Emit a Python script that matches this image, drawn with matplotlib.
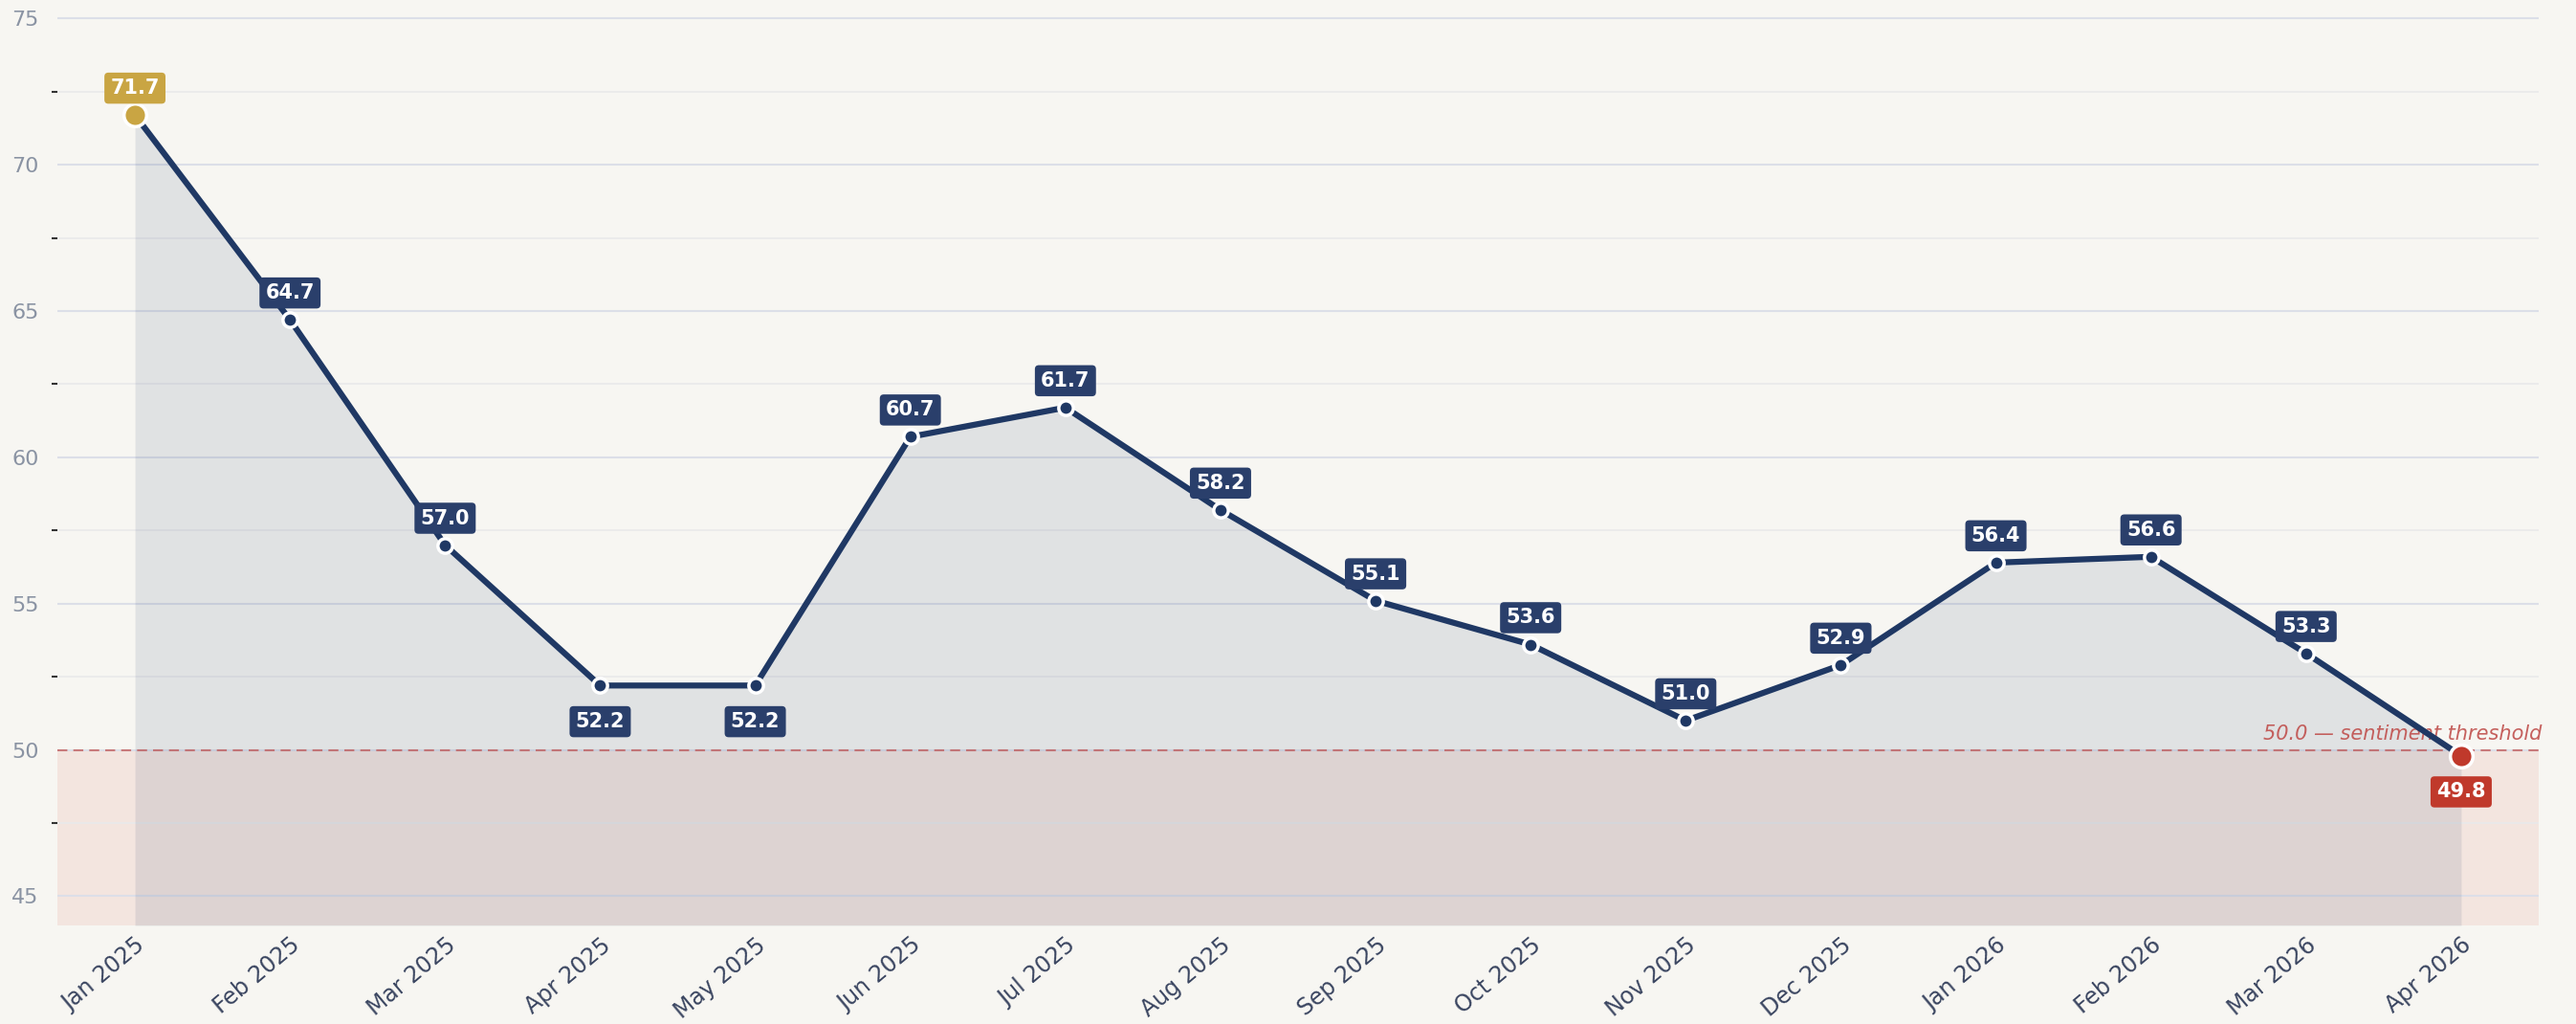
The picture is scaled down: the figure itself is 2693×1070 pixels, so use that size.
import matplotlib
matplotlib.use("Agg")
import matplotlib.pyplot as plt
from matplotlib.ticker import MultipleLocator

months = ["Jan 2025", "Feb 2025", "Mar 2025", "Apr 2025", "May 2025", "Jun 2025",
          "Jul 2025", "Aug 2025", "Sep 2025", "Oct 2025", "Nov 2025", "Dec 2025",
          "Jan 2026", "Feb 2026", "Mar 2026", "Apr 2026"]
values = [71.7, 64.7, 57.0, 52.2, 52.2, 60.7, 61.7, 58.2, 55.1, 53.6, 51.0, 52.9,
          56.4, 56.6, 53.3, 49.8]
below_labels = [3, 4, 15]
threshold = 50.0

NAVY = "#1f3864"
BOX = "#2a3f6b"
GOLD = "#c9a543"
RED = "#c0392b"
BG = "#f7f6f2"

fig = plt.figure(figsize=(26.93, 10.70), dpi=100, facecolor=BG)
ax = fig.add_axes([60/2693, 1 - 967/1070, (2654-60)/2693, (967-4)/1070])
ax.set_facecolor(BG)

x = list(range(len(values)))
ymin, ymax = 44.0, 75.5

ax.axhspan(ymin, threshold, color="#e8b4aa", alpha=0.25, lw=0, zorder=0)
ax.fill_between(x, values, ymin, color=NAVY, alpha=0.1, lw=0, zorder=1)
ax.axhline(threshold, color="#c0504d", lw=1.5, ls=(0, (5, 3)), alpha=0.7, zorder=2)
ax.text(15.52, threshold + 0.22, "50.0 — sentiment threshold", color="#c0504d",
        alpha=0.9, fontsize=15, style="italic", ha="right", va="bottom", zorder=3)

ax.plot(x, values, color=NAVY, lw=4.5, zorder=4, solid_capstyle="round")

for i, v in enumerate(values):
    if i == 0:
        c, bc, ms = GOLD, GOLD, 17
    elif i == len(values) - 1:
        c, bc, ms = RED, RED, 17
    else:
        c, bc, ms = NAVY, BOX, 11
    ax.plot(i, v, "o", color=c, ms=ms, mec="white", mew=2.5, zorder=5)
    if i in below_labels:
        dy, va = -20, "top"
    else:
        dy, va = 13, "bottom"
    ax.annotate(f"{v:.1f}", (i, v), xytext=(0, dy), textcoords="offset points",
                ha="center", va=va, color="white", fontsize=15, fontweight="bold",
                bbox=dict(boxstyle="round,pad=0.3,rounding_size=0.2", fc=bc, ec="none"),
                zorder=6)

ax.set_xlim(-0.5, 15.5)
ax.set_ylim(ymin, ymax)
ax.set_xticks(x)
ax.set_xticklabels(months, rotation=40, ha="right", rotation_mode="anchor",
                   color="#3a4560", fontsize=17)
ax.yaxis.set_major_locator(MultipleLocator(5))
ax.yaxis.set_minor_locator(MultipleLocator(2.5))
ax.tick_params(axis="y", which="major", length=0, labelcolor="#8a93a3", labelsize=16, pad=14)
ax.tick_params(axis="y", which="minor", length=4, width=1.5, color="#333333")
ax.tick_params(axis="x", length=0, pad=6)
ax.grid(axis="y", which="major", color="#dcdfe8", lw=1.5, zorder=0)
ax.grid(axis="y", which="minor", color="#e9e9ea", lw=1.2, zorder=0)
ax.set_axisbelow(True)
for s in ax.spines.values():
    s.set_visible(False)

fig.savefig("out.png", dpi=100, facecolor=BG)
